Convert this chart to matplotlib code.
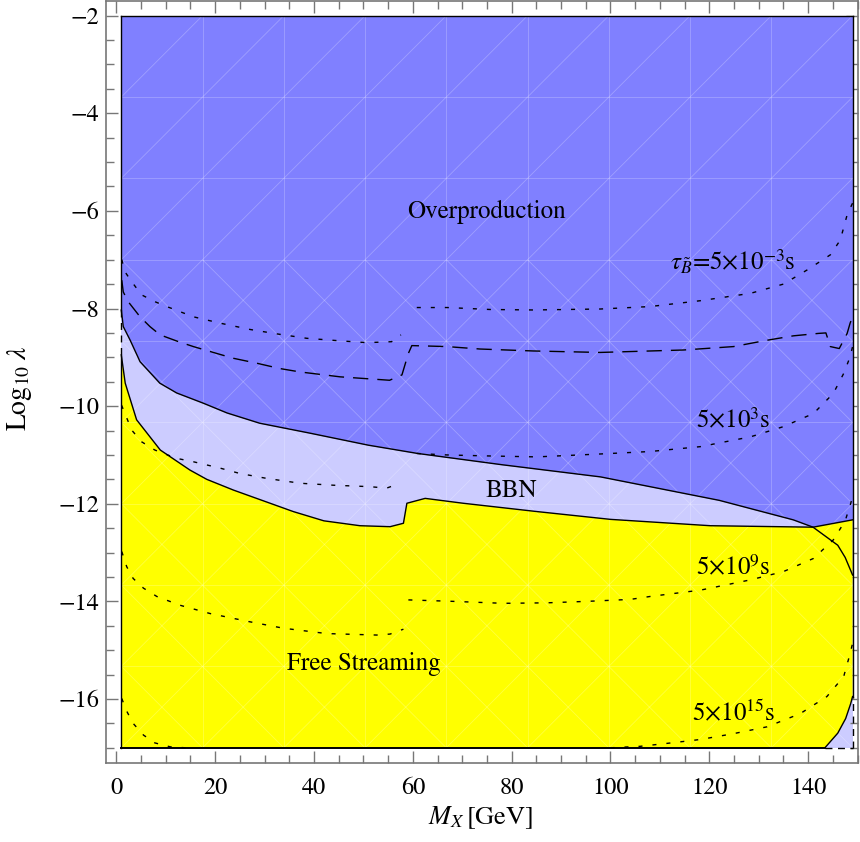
import numpy as np
import matplotlib.pyplot as plt
from matplotlib.ticker import MultipleLocator
from matplotlib.collections import LineCollection

plt.rcParams['font.family'] = 'STIXGeneral'
plt.rcParams['mathtext.fontset'] = 'stix'
plt.rcParams['lines.scale_dashes'] = False

# domain of the region plot
x_min, x_max = 1, 149
y_min, y_max = -17, -2

# overproduction boundary (blue above)
A_x = [1, 1.4, 2.8, 4.8, 8.8, 12.2, 17.6, 22.4, 29, 39, 51, 61, 78, 98, 122, 137, 141, 146, 147.5, 149]
A_y = [-8.03, -8.37, -8.65, -9.09, -9.53, -9.73, -9.94, -10.14, -10.35, -10.55, -10.8, -10.97,
       -11.2, -11.45, -11.93, -12.33, -12.48, -12.85, -13.1, -13.46]

# free streaming upper boundary (yellow below)
F_x = [1, 1.8, 4.1, 8.9, 14.9, 18.3, 23.7, 35.8, 42, 49.3, 55.4, 58.1, 58.8, 62.5, 70.2, 85.1,
       100, 120.2, 141, 149]
F_y = [-8.95, -9.53, -10.28, -10.9, -11.31, -11.5, -11.72, -12.16, -12.35, -12.45, -12.47, -12.40,
       -11.99, -11.89, -11.99, -12.16, -12.32, -12.45, -12.48, -12.33]

# free streaming lower-right boundary
R_x = [149, 148.6, 147.6, 146.0, 143.4]
R_y = [-15.95, -16.1, -16.4, -16.7, -17.0]

# lifetime contours
t1a_x = [1.1, 1.76, 3.1, 5.1, 7.8, 10.2, 15.6, 21, 27.1, 32.5, 38.5, 45, 50.7, 55.7, 57.6]
t1a_y = [-7.0, -7.25, -7.45, -7.72, -7.86, -7.96, -8.17, -8.30, -8.43, -8.52, -8.61, -8.66, -8.70, -8.68, -8.54]
t1b_x = [60.8, 67, 75.6, 84.4, 98, 108, 118.2, 128.3, 135, 139.8, 144.5, 146.5, 147.9, 149]
t1b_y = [-7.98, -7.98, -8.02, -8.03, -8.01, -7.96, -7.84, -7.69, -7.5, -7.21, -6.9, -6.6, -6.08, -5.84]

ld_x = [1.1, 1.4, 2.4, 4.8, 6.8, 8.85, 12.6, 15.6, 20.3, 23.7, 28.4, 33.1, 37.2, 45.3, 55.3, 57.8,
        59.1, 59.8, 63.5, 66.9, 73.6, 84.4, 97.9, 114.8, 124.9, 131.7, 137, 142.1, 143.6, 144.5,
        146.3, 147.9, 148.5, 149]
ld_y = [-7.42, -7.66, -7.86, -8.17, -8.37, -8.54, -8.68, -8.78, -8.92, -9.02, -9.12, -9.23, -9.30,
        -9.40, -9.47, -9.36, -8.92, -8.76, -8.77, -8.78, -8.83, -8.87, -8.9, -8.85, -8.78, -8.65,
        -8.56, -8.51, -8.5, -8.78, -8.82, -8.51, -8.3, -8.17]

t3a_x = [1.05, 3.1, 5.1, 7.8, 12.2, 15.6, 21, 25, 30.4, 37.2, 43.9, 51.3, 54.7, 57.4]
t3a_y = [-9.98, -10.49, -10.73, -10.9, -11.07, -11.14, -11.27, -11.38, -11.48, -11.58, -11.62, -11.65, -11.68, -11.58]
t3b_x = [60.8, 66.9, 75, 85.1, 98, 108, 118.2, 128.3, 135, 141.1, 145.1, 147.2, 148.5, 149]
t3b_y = [-10.97, -11.0, -11.02, -11.04, -10.98, -10.93, -10.83, -10.63, -10.42, -10.15, -9.74, -9.33, -8.99, -8.78]

t9a_x = [1.1, 2.1, 3.4, 5.5, 8.2, 12.9, 19, 27.1, 33.8, 42.6, 52.7, 55.4, 58.1]
t9a_y = [-12.98, -13.29, -13.53, -13.73, -13.9, -14.08, -14.25, -14.42, -14.55, -14.66, -14.69, -14.67, -14.57]
t9b_x = [59.1, 68.2, 78.3, 87.1, 95.2, 104, 108, 118.2, 128.3, 135, 141.1, 145.1, 147.5, 148.6, 149]
t9b_y = [-13.97, -14.0, -14.04, -14.03, -14.0, -13.96, -13.9, -13.77, -13.56, -13.39, -13.12, -12.74, -12.35, -12.0, -11.85]

t15a_x = [1.1, 2.0, 3.4, 5.5, 7.8, 10.9, 14]
t15a_y = [-15.99, -16.23, -16.5, -16.74, -16.9, -16.98, -17.0]
t15b_x = [100, 106, 111.4, 118.2, 124.9, 131.7, 138.4, 143.8, 147.2, 148.5, 149]
t15b_y = [-17.0, -16.97, -16.91, -16.83, -16.71, -16.57, -16.3, -15.95, -15.54, -15.07, -14.86]

fig = plt.figure(figsize=(8.6, 8.42), dpi=100)
ax = fig.add_axes([0.1233, 0.0942, 0.8744, 0.9046])

# regions
ax.fill_between([x_min, x_max], y_min, y_max, color='#ccccff', lw=0, zorder=1)
ax.fill_between(A_x, A_y, y_max, color='#8080ff', lw=0, zorder=2)
ax.fill(F_x + R_x + [x_min], F_y + R_y + [y_min], color='#ffff00', lw=0, zorder=3)

# faint mesh, like the Mathematica render
gx = np.linspace(x_min, x_max, 10)
gy = np.linspace(y_min, y_max, 10)
segs = []
for x in gx[1:-1]:
    segs.append([(x, y_min), (x, y_max)])
for y in gy[1:-1]:
    segs.append([(x_min, y), (x_max, y)])
for i in range(9):
    for j in range(9):
        segs.append([(gx[i], gy[j]), (gx[i + 1], gy[j + 1])])
        if j <= 5:
            segs.append([(gx[i], gy[j + 1]), (gx[i + 1], gy[j])])
ax.add_collection(LineCollection(segs, colors='white', alpha=0.25, linewidths=0.6, zorder=4))

# boundaries
for xs, ys in [(A_x, A_y), (F_x, F_y), (R_x, R_y)]:
    ax.plot(xs, ys, color='black', lw=1.0, zorder=5)
edge = dict(color='black', lw=1.0, zorder=5)
ax.plot([x_min, x_max], [y_max, y_max], **edge)
ax.plot([x_min, x_min], [y_max, A_y[0]], **edge)
ax.plot([x_min, x_min], [A_y[0], F_y[0]], ls=(0, (5, 4)), **edge)
ax.plot([x_min, x_min], [F_y[0], y_min], **edge)
ax.plot([x_min, R_x[-1]], [y_min, y_min], color='black', lw=1.4, zorder=5)
ax.plot([R_x[-1], x_max], [y_min, y_min], ls=(0, (5, 4)), **edge)
ax.plot([x_max, x_max], [y_min, R_y[0]], ls=(0, (5, 4)), **edge)
ax.plot([x_max, x_max], [R_y[0], y_max], **edge)

dot = (0, (2.9, 7.2))
dash = (0, (11, 6.5))
for xs, ys in [(t1a_x, t1a_y), (t1b_x, t1b_y), (t3a_x, t3a_y), (t3b_x, t3b_y),
               (t9a_x, t9a_y), (t9b_x, t9b_y), (t15a_x, t15a_y), (t15b_x, t15b_y)]:
    ax.plot(xs, ys, color='black', lw=1.0, ls=dot, zorder=5)
ax.plot(ld_x, ld_y, color='black', lw=1.0, ls=dash, zorder=5)

# labels
fs = 18
ax.text(75, -6.15, 'Overproduction', fontsize=fs, ha='center', va='baseline', zorder=6)
ax.text(79.9, -11.86, 'BBN', fontsize=fs, ha='center', va='baseline', zorder=6)
ax.text(50, -15.41, 'Free Streaming', fontsize=fs, ha='center', va='baseline', zorder=6)
ax.text(112, -7.22, r'$\tau_{\tilde{B}}$=5$\times$10$^{-3}$s', fontsize=fs, ha='left', va='baseline', zorder=6)
ax.text(124.9, -10.45, r'5$\times$10$^{3}$s', fontsize=fs, ha='center', va='baseline', zorder=6)
ax.text(124.9, -13.46, r'5$\times$10$^{9}$s', fontsize=fs, ha='center', va='baseline', zorder=6)
ax.text(124.9, -16.43, r'5$\times$10$^{15}$s', fontsize=fs, ha='center', va='baseline', zorder=6)

# frame
ax.set_xlim(-2.085, 150.1)
ax.set_ylim(-17.305, -1.70)
ax.xaxis.set_major_locator(MultipleLocator(20))
ax.xaxis.set_minor_locator(MultipleLocator(5))
ax.yaxis.set_major_locator(MultipleLocator(2))
ax.yaxis.set_minor_locator(MultipleLocator(0.5))
ax.tick_params(which='both', direction='in', top=True, right=True, color='#777777', width=1.0,
               labelsize=17.5)
ax.tick_params(which='major', length=8.4)
ax.tick_params(which='minor', length=5.5)
ax.tick_params(axis='x', pad=11)
ax.tick_params(axis='y', pad=5)
for s in ax.spines.values():
    s.set_color('#777777')
    s.set_linewidth(1.2)

fig.text(481 / 860, 1 - 818 / 842, r'$M_X\,$[GeV]', fontsize=19, ha='center', va='center')
fig.text(20 / 860, 1 - 388 / 842, r'$\mathrm{Log}_{10}\;\lambda$', fontsize=20, ha='center',
         va='center', rotation=90)

fig.savefig('out.png', dpi=100)
